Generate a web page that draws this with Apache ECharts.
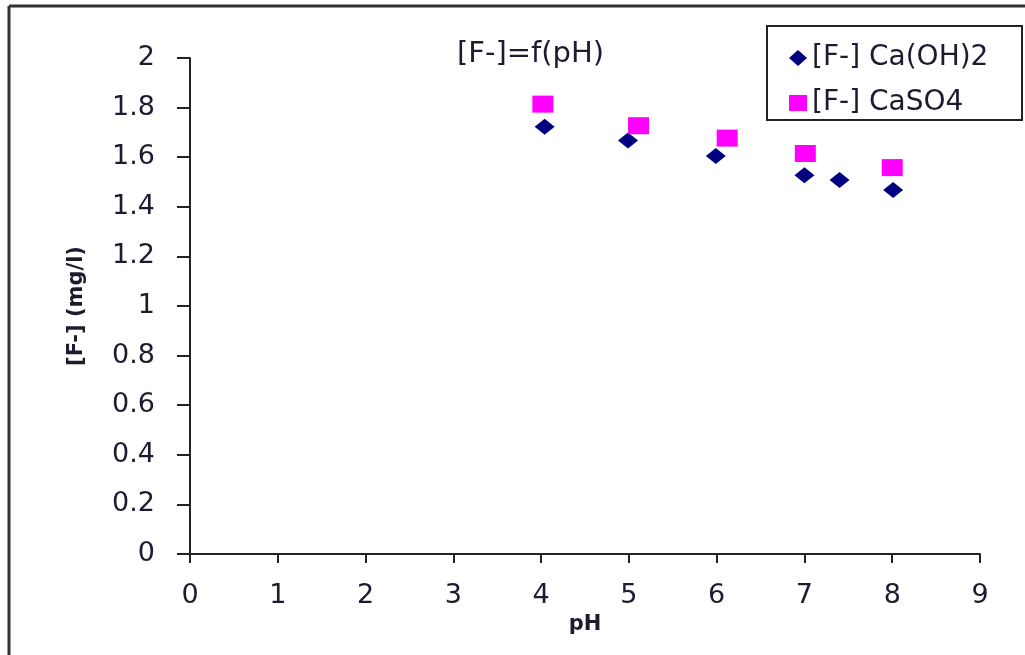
<!DOCTYPE html>
<html>
<head>
<meta charset="utf-8">
<script src="https://cdn.jsdelivr.net/npm/echarts@6/dist/echarts.min.js"></script>
<style>
html,body{margin:0;padding:0;background:#fff;}
#c{width:1025px;height:655px;}
</style>
</head>
<body>
<div id="c"></div>
<script>
const titleText = '[F-]=f(pH)';
const xName = 'pH';
const yName = '[F-] (mg/l)';
const seriesNames = ['[F-] Ca(OH)2', '[F-] CaSO4'];
const caOH2_pH = [4.04, 4.99, 5.99, 7.0, 7.4, 8.01];
const caOH2_F = [1.723, 1.667, 1.605, 1.527, 1.508, 1.468];
const caSO4_pH = [4.02, 5.11, 6.12, 7.01, 8.0];
const caSO4_F = [1.814, 1.727, 1.677, 1.615, 1.558];

const pairs = (xs, ys) => xs.map((x, i) => [x, ys[i]]);
const textColor = '#1c1c30';
const font = 'DejaVu Sans';

const chart = echarts.init(document.getElementById('c'), null, {renderer: 'canvas'});
chart.setOption({
  backgroundColor: '#fff',
  animation: false,
  title: {
    text: titleText,
    left: 452, top: 35,
    textStyle: {fontFamily: font, fontSize: 29, fontWeight: 'normal', color: textColor}
  },
  legend: {
    orient: 'vertical',
    left: 784, top: 38,
    itemWidth: 18, itemHeight: 16,
    itemGap: 15,
    textStyle: {fontFamily: font, fontSize: 28, color: textColor, lineHeight: 30},
    data: [
      {name: seriesNames[0], icon: 'diamond', itemStyle: {color: '#000080', opacity: 1}},
      {name: seriesNames[1], icon: 'rect', itemStyle: {color: '#ff00ff', opacity: 1}}
    ]
  },
  grid: {left: 190, right: 45, top: 58, bottom: 101, containLabel: false},
  xAxis: {
    type: 'value', min: 0, max: 9, interval: 1,
    name: xName, nameLocation: 'middle', nameGap: 55,
    nameTextStyle: {fontFamily: font, fontSize: 21, fontWeight: 'bold', color: textColor},
    axisLine: {show: true, lineStyle: {color: '#222', width: 2}},
    axisTick: {show: true, inside: false, length: 9, lineStyle: {color: '#222', width: 2}},
    axisLabel: {fontFamily: font, fontSize: 27, color: textColor, margin: 28},
    splitLine: {show: false}
  },
  yAxis: {
    type: 'value', min: 0, max: 2, interval: 0.2,
    name: yName, nameLocation: 'middle', nameGap: 103, nameRotate: 90,
    nameTextStyle: {fontFamily: font, fontSize: 21, fontWeight: 'bold', color: textColor},
    axisLine: {show: true, onZero: false, lineStyle: {color: '#222', width: 2}},
    axisTick: {show: true, inside: false, length: 13, lineStyle: {color: '#222', width: 2}},
    axisLabel: {fontFamily: font, fontSize: 27, color: textColor, margin: 35},
    splitLine: {show: false}
  },
  graphic: [
    {type: 'line', shape: {x1: 9, y1: 6, x2: 9, y2: 655}, style: {stroke: '#333', lineWidth: 3}},
    {type: 'line', shape: {x1: 9, y1: 6, x2: 1025, y2: 6}, style: {stroke: '#333', lineWidth: 3}},
    {type: 'rect', shape: {x: 767, y: 26, width: 255, height: 94}, style: {fill: 'none', stroke: '#222', lineWidth: 2}, z: 100}
  ],
  series: [
    {
      name: seriesNames[0], type: 'scatter', symbol: 'diamond', symbolSize: [20, 16],
      itemStyle: {color: '#000080', opacity: 1}, data: pairs(caOH2_pH, caOH2_F)
    },
    {
      name: seriesNames[1], type: 'scatter', symbol: 'rect', symbolSize: [21, 17],
      itemStyle: {color: '#ff00ff', opacity: 1}, data: pairs(caSO4_pH, caSO4_F)
    }
  ]
});
</script>
</body>
</html>
